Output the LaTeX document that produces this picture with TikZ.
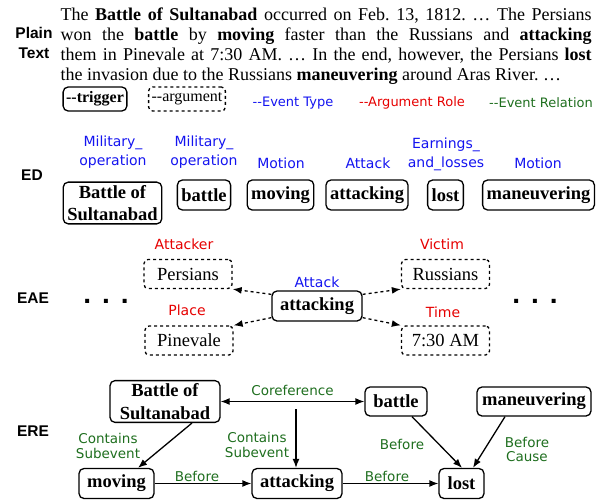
\documentclass[tikz,border=0pt]{standalone}
\usepackage{fontspec}
\setmainfont{Liberation Serif}
\newfontfamily\labelfont{DejaVu Sans}
\newfontfamily\headfont{Liberation Sans}
\usetikzlibrary{arrows.meta}
\frenchspacing

\definecolor{typeblue}{RGB}{20,20,240}
\definecolor{rolered}{RGB}{230,0,0}
\definecolor{relgreen}{RGB}{30,110,30}

\tikzset{
  trig/.style={draw, rounded corners=5pt, inner xsep=4pt, inner ysep=3pt, minimum height=30pt,
    align=center, font=\fontsize{18.5}{22.5}\selectfont\bfseries},
  argbox/.style={draw, dashed, rounded corners=4pt, minimum width=88pt, minimum height=29pt,
    font=\fontsize{18.5}{22.5}\selectfont},
  evtype/.style={text=typeblue, align=center, font=\labelfont\fontsize{14}{19}\selectfont},
  role/.style={text=rolered, font=\labelfont\fontsize{14}{19}\selectfont},
  rel/.style={text=relgreen, align=center, font=\labelfont\fontsize{13.5}{14.5}\selectfont},
  head/.style={align=center, font=\headfont\bfseries\fontsize{15.5}{20}\selectfont},
  dots/.style={font=\headfont\bfseries\fontsize{28}{28}\selectfont},
}

\begin{document}
\begin{tikzpicture}[x=1pt, y=-1pt, >={Latex[length=9pt,width=7pt]}, line width=1.3pt]
  \useasboundingbox (0,0) rectangle (603,501);

  % plain text
  \node[head] (plain) at (34,43) {Plain\\Text};
  \node[anchor=north west, inner sep=0pt, align=left, font=\fontsize{18}{20}\selectfont] (plaintext) at (60,7) {%
    \makebox[531pt][s]{The \textbf{Battle of Sultanabad} occurred on Feb. 13, 1812. … The Persians}\\
    \makebox[531pt][s]{won the \textbf{battle} by \textbf{moving} faster than the Russians and \textbf{attacking}}\\
    \makebox[531pt][s]{them in Pinevale at 7:30 AM. … In the end, however, the Persians \textbf{lost}}\\
    the invasion due to the Russians \textbf{maneuvering} around Aras River. …};

  % legend
  \node[trig, minimum height=24pt, inner xsep=3pt, font=\fontsize{16}{18}\selectfont\bfseries] (legtrig) at (95,99) {-{}-trigger};
  \node[argbox, minimum width=0pt, minimum height=24pt, inner xsep=3pt, font=\fontsize{16}{18}\selectfont] (legarg) at (187,99) {-{}-argument};
  \node[evtype, font=\labelfont\fontsize{13}{15}\selectfont] (legtype) at (293,103) {-{}-Event Type};
  \node[role, font=\labelfont\fontsize{13}{15}\selectfont] (legrole) at (412,103) {-{}-Argument Role};
  \node[rel, font=\labelfont\fontsize{13}{15}\selectfont] (legrel) at (541,103) {-{}-Event Relation};

  % ED
  \node[head] (ed) at (32,175) {ED};
  \node[evtype] (tmila) at (113,152.5) {Military\_\\operation};
  \node[evtype] (tmilb) at (204,152.5) {Military\_\\operation};
  \node[evtype] (tmota) at (281,163) {Motion};
  \node[evtype] (tatt) at (368,163) {Attack};
  \node[evtype] (tearn) at (446,154) {Earnings\_\\and\_losses};
  \node[evtype] (tmotb) at (538,163) {Motion};
  \node[trig] (edsult) at (112.5,203) {Battle of\\Sultanabad};
  \node[trig] (edbattle) at (204,195) {battle};
  \node[trig] (edmoving) at (280.5,195) {moving};
  \node[trig] (edatt) at (367,195) {attacking};
  \node[trig] (edlost) at (445.5,195) {lost};
  \node[trig] (edmaneu) at (538.5,195) {maneuvering};

  % EAE
  \node[head] (eae) at (33,298) {EAE};
  \node[dots] (dotsl) at (106,301) {.\hspace{11pt}.\hspace{11pt}.};
  \node[dots] (dotsr) at (535,301) {.\hspace{11pt}.\hspace{11pt}.};
  \node[trig, minimum width=90pt] (att) at (317,306) {attacking};
  \node[evtype] (latt) at (317,282) {Attack};
  \node[argbox] (pers) at (188,274) {Persians};
  \node[argbox] (pine) at (189,340.5) {Pinevale};
  \node[argbox] (russ) at (445.5,274) {Russians};
  \node[argbox] (time) at (445.5,340.5) {7:30 AM};
  \node[role] (lattacker) at (184,244) {Attacker};
  \node[role] (lplace) at (187,310) {Place};
  \node[role] (lvictim) at (442,244) {Victim};
  \node[role] (ltime) at (443,312) {Time};
  \draw[->, dashed] ([yshift=-4pt]att.north west) -- (pers.south east);
  \draw[->, dashed] ([yshift=4pt]att.south west) -- (pine.north east);
  \draw[->, dashed] ([yshift=-4pt]att.north east) -- (russ.south west);
  \draw[->, dashed] ([yshift=4pt]att.south east) -- (time.north west);

  % ERE
  \node[head] (ere) at (33,431) {ERE};
  \node[trig, minimum width=110pt] (rsult) at (165,401.5) {Battle of\\Sultanabad};
  \node[trig, minimum width=62pt, minimum height=29pt] (rbattle) at (396,401.5) {battle};
  \node[trig, minimum width=114pt, minimum height=29pt] (rmaneu) at (534,401.5) {maneuvering};
  \node[trig, minimum width=75pt] (rmoving) at (116.5,483.5) {moving};
  \node[trig, minimum width=90pt] (ratt) at (297,483.5) {attacking};
  \node[trig, minimum width=45pt] (rlost) at (461.5,483.5) {lost};
  \coordinate (cstart) at (296,409);

  \draw[<->] (rsult.east) -- (rbattle.west);
  \draw[->] (cstart) -- (cstart |- ratt.north);
  \draw[->] ([xshift=27pt]rsult.south) -- ([xshift=21.5pt]rmoving.north);
  \draw[->] (rmoving.east) -- (ratt.west);
  \draw[->] (ratt.east) -- (rlost.west);
  \draw[->] ([xshift=16pt]rbattle.south) -- ([xshift=0.5pt]rlost.north);
  \draw[->] ([xshift=-29pt]rmaneu.south) -- ([xshift=11.5pt]rlost.north);

  \node[rel] (lcoref) at (292.5,390) {Coreference};
  \node[rel] (lconta) at (108,446) {Contains\\Subevent};
  \node[rel] (lcontb) at (257,445) {Contains\\Subevent};
  \node[rel] (lbefa) at (197,476) {Before};
  \node[rel] (lbefb) at (387,476) {Before};
  \node[rel] (lbefc) at (402,444) {Before};
  \node[rel] (lcause) at (527,449.5) {Before\\Cause};
\end{tikzpicture}
\end{document}
